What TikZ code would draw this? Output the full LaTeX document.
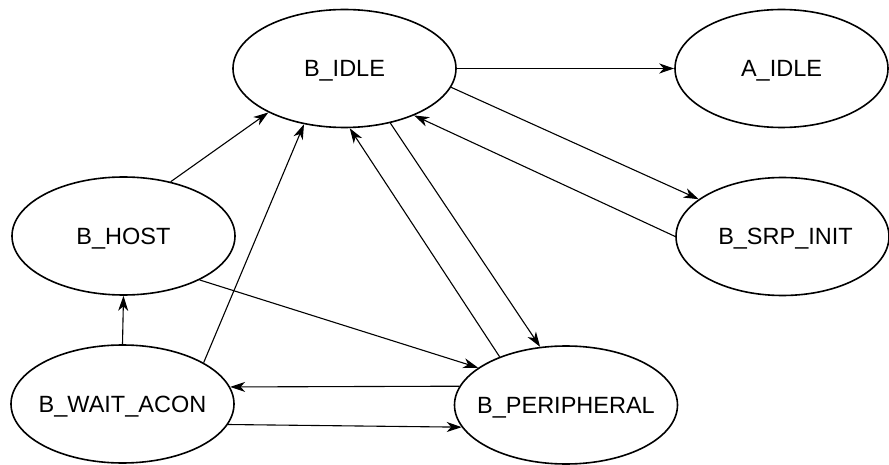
\documentclass[tikz,border=0pt]{standalone}
\usepackage{fontspec}
\setmainfont{Liberation Sans}
\usetikzlibrary{shapes.geometric,arrows.meta}
\begin{document}
\begin{tikzpicture}[x=1pt,y=-1pt,
  state/.style={draw,ellipse,line width=1.6pt,inner sep=0pt,text depth=0pt,minimum width=223pt,minimum height=118pt,font=\fontsize{23.5}{28}\selectfont},
  edge/.style={line width=1.1pt,-{Stealth[length=15pt,width=10pt,inset=4.5pt]}}]
\useasboundingbox (0,0) rectangle (889,465);
\node[state] (bidle) at (344.5,68.5) {\makebox[0pt]{B\_IDLE}};
\node[state,minimum width=213pt] (aidle) at (781.5,68.5) {\makebox[0pt]{A\_IDLE}};
\node[state,minimum width=213pt] (srp) at (782.5,236.5) {\makebox[0pt]{\hspace{6pt}B\_SRP\_INIT}};
\node[state] (host) at (123.5,236) {\makebox[0pt]{B\_HOST}};
\node[state] (wait) at (122.5,404) {\makebox[0pt]{B\_WAIT\_ACON}};
\node[state] (per) at (566,405) {\makebox[0pt]{B\_PERIPHERAL}};
\draw[edge] (bidle.0) -- (aidle.180);
\draw[edge] (bidle.-10.4) -- (srp.156);
\draw[edge] (srp.180) -- (bidle.-34.6);
\draw[edge] (bidle.-50) -- (per.114);
\draw[edge] (per.144) -- (bidle.-85);
\draw[edge] (host.49) -- (bidle.-150);
\draw[edge] (wait.27) -- (bidle.-126);
\draw[edge] (wait.90) -- (host.-90);
\draw[edge] (host.-30) -- (per.157);
\draw[edge] (per.170) -- (wait.9);
\draw[edge] (wait.-11) -- (per.-168);
\end{tikzpicture}
\end{document}
